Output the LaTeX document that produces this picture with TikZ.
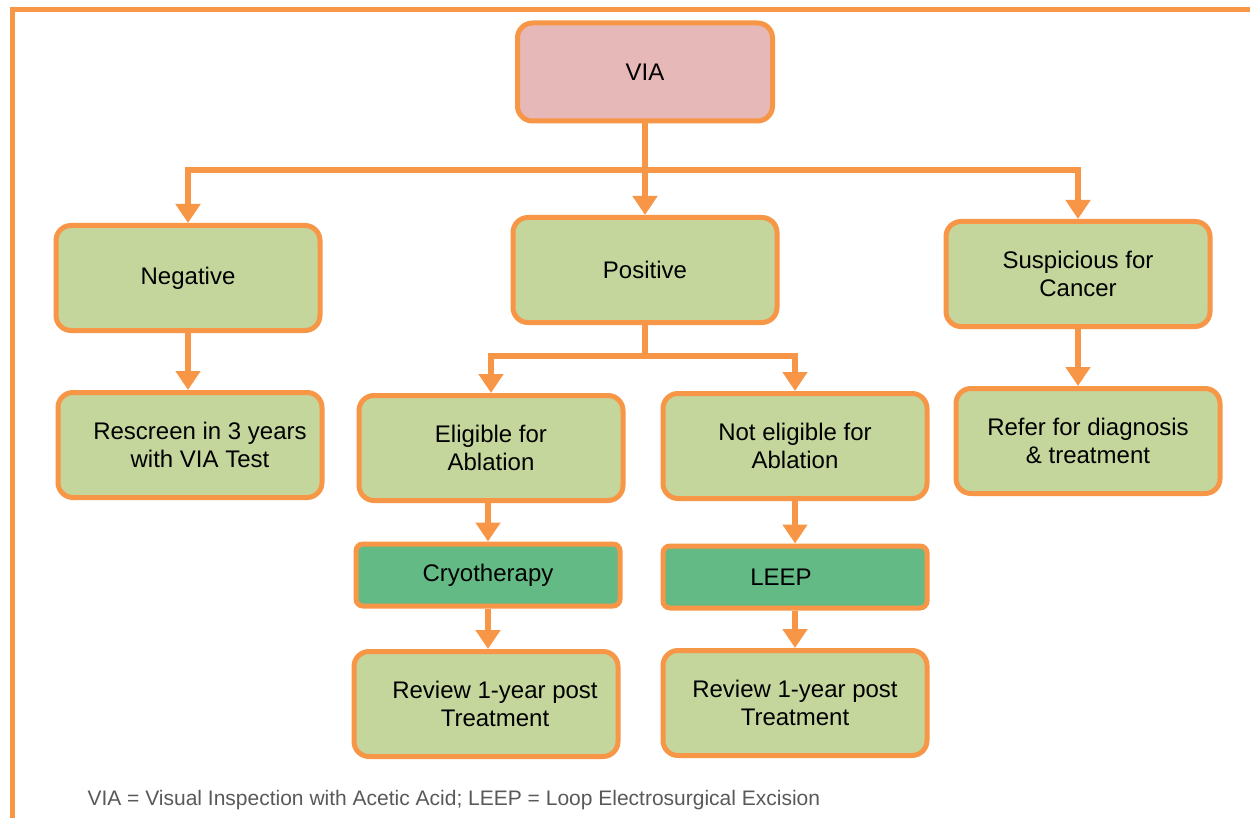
\documentclass[tikz,border=0pt]{standalone}
\usepackage{fontspec}
\setmainfont{Liberation Sans}
\usetikzlibrary{arrows.meta,positioning,calc}
\definecolor{Orange}{HTML}{F79646}
\definecolor{Pink}{HTML}{E6B8B7}
\definecolor{Olive}{HTML}{C4D69C}
\definecolor{Green}{HTML}{63BA85}
\definecolor{Note}{HTML}{595959}

\begin{document}
\begin{tikzpicture}[x=1pt,y=-1pt,
  box/.style={draw=Orange,line width=5pt,rounded corners=15pt,fill=Olive,
    minimum width=264pt,minimum height=105pt,align=center,font=\fontsize{24}{28}\selectfont},
  treat/.style={box,fill=Green,rounded corners=7pt,minimum height=62pt},
  arr/.style={-{Triangle[length=19pt,width=24pt]},line width=6pt,Orange},
  frame/.style={line width=5pt,Orange}]
  \useasboundingbox (0,0) rectangle (1250,818);
  % outer frame (top and left)
  \draw[frame] (1250,10) -- (12,10) -- (12,818);
  % top level
  \node[box,fill=Pink,minimum width=255pt,minimum height=98pt] (via) at (645,72) {VIA};
  \node[box] (neg)  at (188,278) {Negative};
  \node[box] (pos)  at (645,270) {Positive};
  \node[box] (sus)  at (1078,274) {Suspicious for\\Cancer};
  % second level
  \node[box] (resc)  at (190,445) {\hspace*{20pt}Rescreen in 3 years\\\hspace*{20pt}with VIA Test};
  \node[box] (elig)  at (491,448) {Eligible for\\Ablation};
  \node[box] (nelig) at (795,446) {Not eligible for\\Ablation};
  \node[box] (ref)   at (1088,441) {Refer for diagnosis\\\& treatment};
  % treatments
  \node[treat] (cryo) at (488,575) {Cryotherapy};
  \node[treat] (leep) at (795,577) {\hspace*{-28pt}LEEP};
  \node[box] (rev1) at (486,704) {\hspace*{18pt}Review 1-year post\\\hspace*{18pt}Treatment};
  \node[box] (rev2) at (795,703) {Review 1-year post\\Treatment};
  % connectors
  \coordinate (bus) at (645,170);
  \coordinate (split) at (645,356);
  \draw[arr] (via) -- (pos);
  \draw[arr] (bus) -| (neg.north);
  \draw[arr] (bus) -| (sus.north);
  \draw[arr] (neg.south) -- (neg.south |- resc.north);
  \draw[arr] (pos.south) |- (split) -| (elig.north);
  \draw[arr] (split) -| (nelig.north);
  \draw[arr] (sus.south -| 1078,0) -- (1078,0 |- ref.north);
  \draw[arr] (elig.south -| cryo) -- (cryo.north);
  \draw[arr] (nelig.south) -- (leep.north);
  \draw[arr] (cryo.south) -- (cryo.south |- rev1.north);
  \draw[arr] (leep.south) -- (rev2.north);
  % footnote
  \node[anchor=west,text=Note,font=\fontsize{21}{25}\selectfont] (note) at (84,800)
    {VIA = Visual Inspection with Acetic Acid; LEEP = Loop Electrosurgical Excision};
\end{tikzpicture}
\end{document}
